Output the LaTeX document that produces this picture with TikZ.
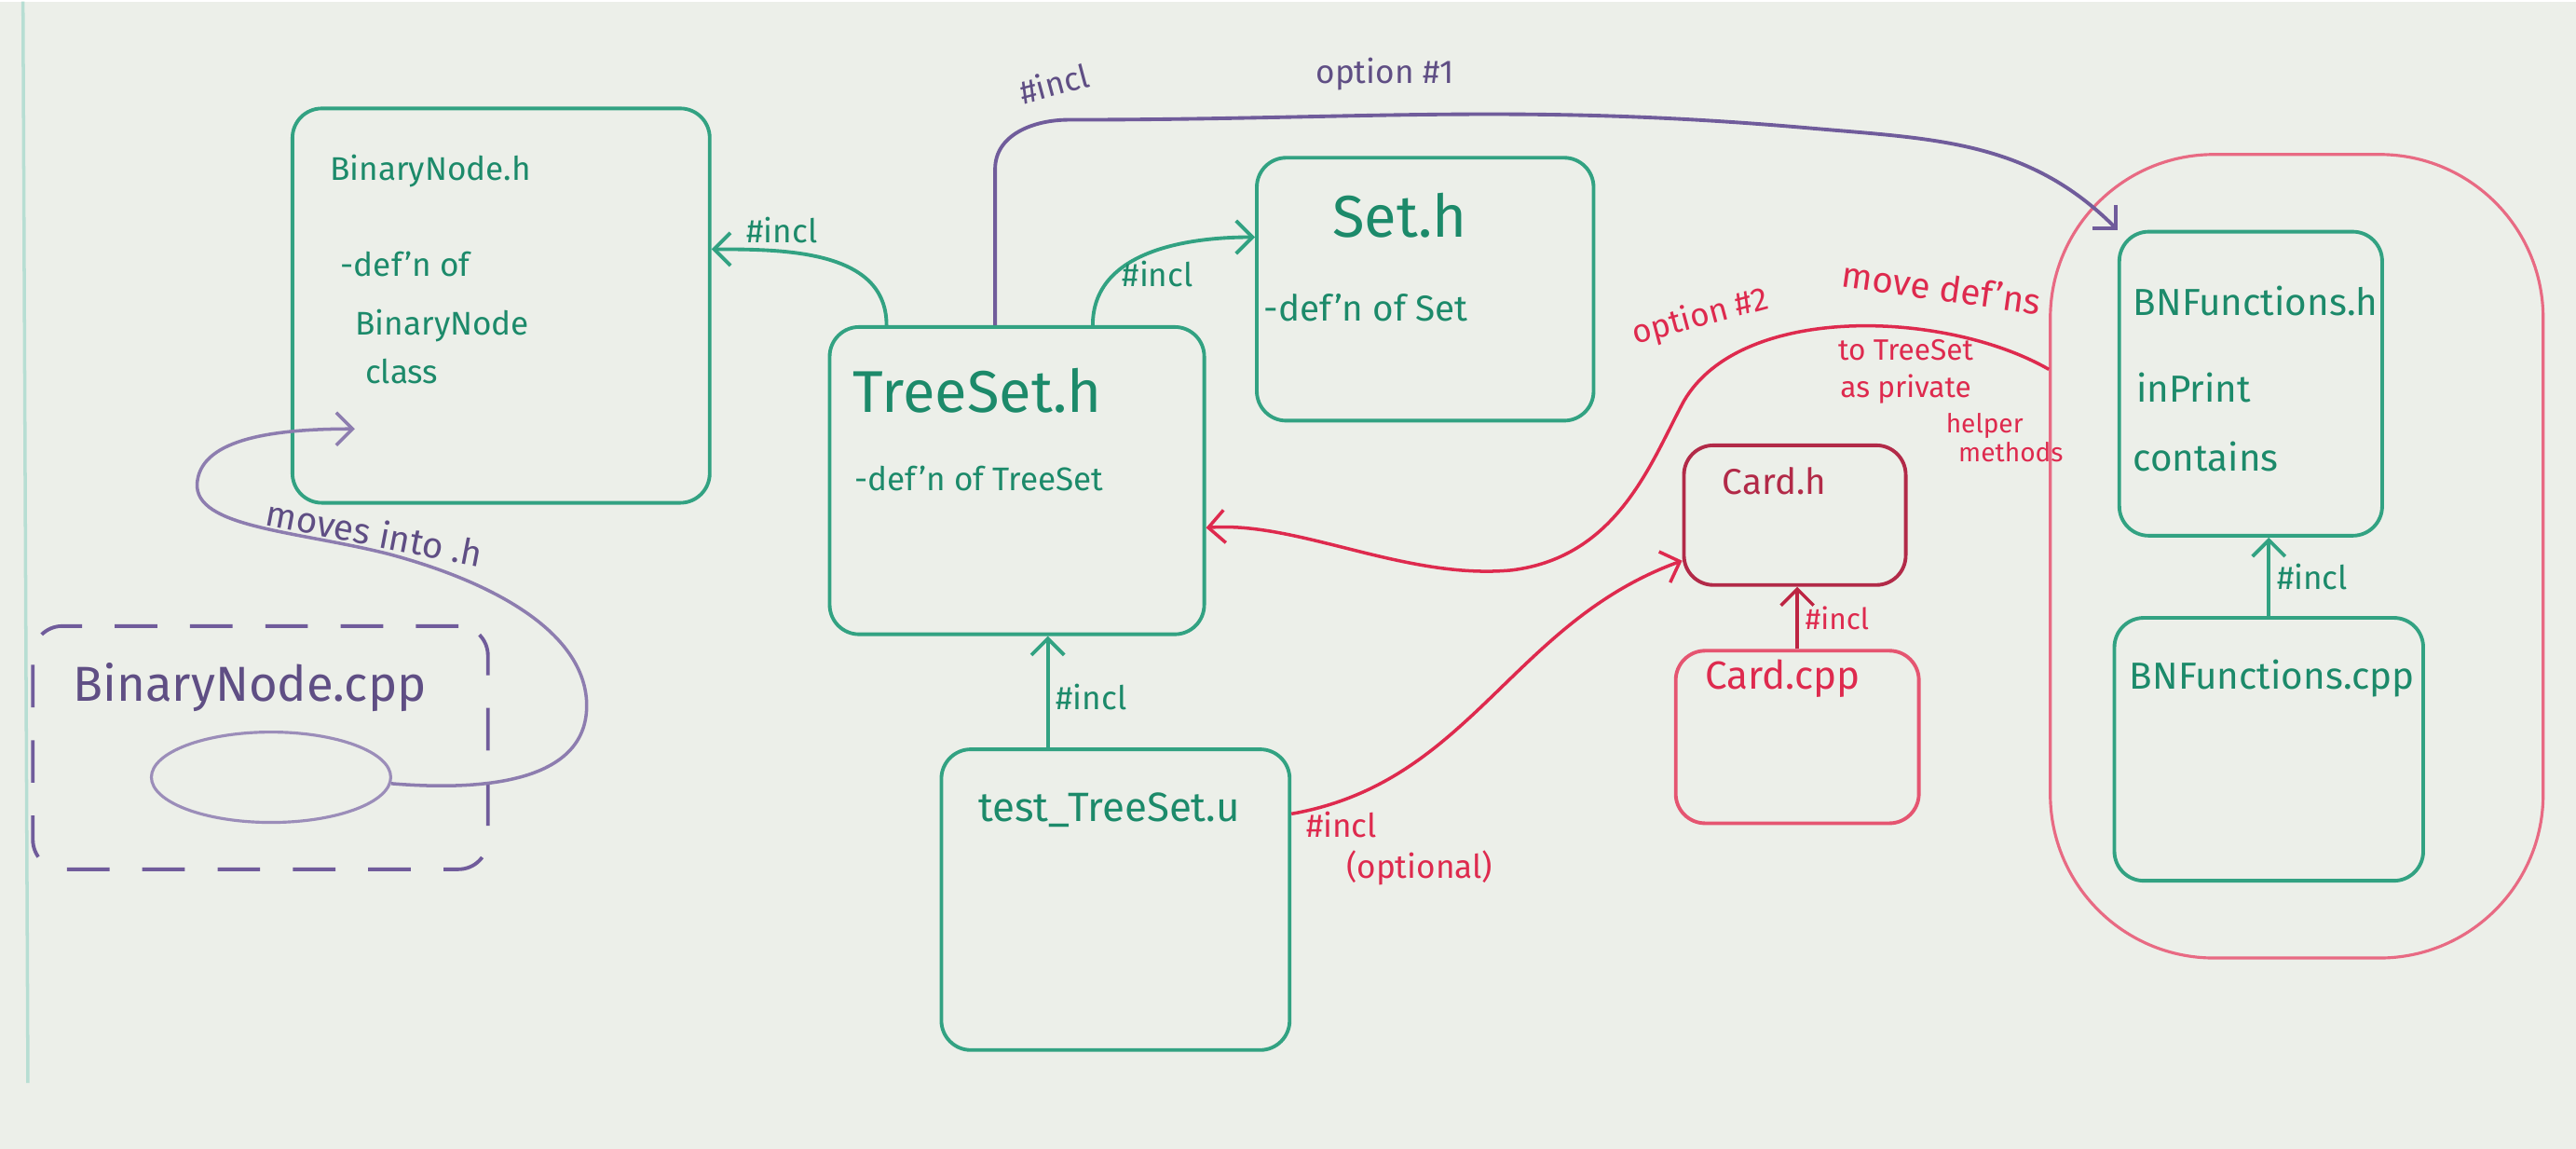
\documentclass[tikz,border=0pt]{standalone}
\usepackage{fontspec}
\setmainfont{Fira Sans}
\usetikzlibrary{positioning,fit,shapes.geometric,arrows.meta}

\definecolor{mkgreen}{RGB}{50,162,130}
\definecolor{mkgreentext}{RGB}{28,138,106}
\definecolor{mkpurple}{RGB}{112,92,155}
\definecolor{mkred}{RGB}{222,42,78}
\definecolor{mkmaroon}{RGB}{178,42,72}
\definecolor{board}{RGB}{236,239,233}

\newcommand{\fsz}[1]{\fontsize{#1}{#1}\selectfont}

\begin{document}
\begin{tikzpicture}[x=0.017634cm, y=0.017634cm]

      \tikzstyle{box_style} = [draw=mkgreen, line width=1.1pt, rounded corners=9pt, inner sep=0pt]
      \tikzstyle{title_style} = [text=mkgreentext, inner sep=1pt]
      \tikzstyle{note_style} = [text=mkgreentext, inner sep=1pt, anchor=west, font=\fsz{10}]
      \tikzstyle{incl_style} = [text=mkgreentext, inner sep=2pt, font=\fsz{10}]
      \tikzstyle{purple_style} = [text=mkpurple!85!black, inner sep=1pt, font=\fsz{10}]
      \tikzstyle{red_style} = [text=mkred, inner sep=0pt, font=\fsz{9}]

      \fill[board] (0,0) rectangle (1568,698);
      \draw[mkgreen!35, line width=1pt] (14,698) -- (17,40);

      % file boxes
      \node[box_style, fit={(178,393) (432,633)}] (binh) {};
      \node[box_style, fit={(505,313) (733,500)}] (tset) {};
      \node[box_style, fit={(765,443) (970,603)}] (seth) {};
      \node[box_style, fit={(1290,373) (1450,558)}] (bnfh) {};
      \node[box_style, fit={(1287,163) (1475,323)}] (bnfc) {};
      \node[box_style, fit={(573,60) (785,243)}] (test) {};
      \node[box_style, draw=mkmaroon, fit={(1025,343) (1160,428)}] (cardh) {};
      \node[box_style, draw=mkred!80, fit={(1020,198) (1168,303)}] (cardc) {};
      \node[box_style, draw=mkpurple, dashed, dash pattern=on 13pt off 10pt, fit={(20,170) (297,318)}] (bincpp) {};
      \node[draw=mkpurple!70, line width=0.9pt, ellipse, minimum width=2.57cm, minimum height=0.97cm, inner sep=0pt] (bincppE) at (165,226) {};
      \node[draw=mkred!70, line width=0.9pt, rounded corners=50pt, inner sep=0pt, fit={(1248,116) (1548,605)}] (bnfblob) {};
      \coordinate (movetip) at (216,438);

            \draw
              (262,595) node[title_style, font=\fsz{10}] (binhT){BinaryNode.h}
              (205,538) node[note_style] (binhA){-def'n of}
              (214,501) node[note_style] (binhB){BinaryNode}
              (220,473) node[note_style] (binhC){class}
              (595,461) node[title_style, font=\fsz{18}] (tsetT){TreeSet.h}
              (518,408) node[note_style] (tsetA){-def'n of TreeSet}
              (852,568) node[title_style, font=\fsz{18}] (sethT){Set.h}
              (767,512) node[note_style, font=\fsz{11}] (sethA){-def'n of Set}
              (1373,516) node[title_style, font=\fsz{11.5}] (bnfhT){BNFunctions.h}
              (1298,463) node[note_style, font=\fsz{11.5}] (bnfhA){inPrint}
              (1296,421) node[note_style, font=\fsz{11.5}] (bnfhB){contains}
              (1383,286) node[title_style, font=\fsz{11.5}] (bnfcT){BNFunctions.cpp}
              (1080,406) node[title_style, text=mkmaroon, font=\fsz{11}] (cardhT){Card.h}
              (1085,286) node[title_style, text=mkred, font=\fsz{12}] (cardcT){Card.cpp}
              (675,206) node[title_style, font=\fsz{12.5}] (testT){test\_TreeSet.u}
              (152,281) node[purple_style, font=\fsz{15}] (bincppT){BinaryNode.cpp}
              (228,375) node[purple_style, rotate=-11, font=\fsz{11}] (movesT){moves into .h}
              (1035,506) node[red_style, rotate=15, font=\fsz{10}] (opt2T){option \#2}
              (1182,524) node[red_style, rotate=-8, font=\fsz{11}] (moveT){move def'ns}
              (1160,486) node[red_style] (toT){to TreeSet}
              (1160,462) node[red_style] (privT){as private}
              (1208,440) node[red_style, font=\fsz{8}] (helpT){helper}
              (1224,424) node[red_style, font=\fsz{8}] (methT){methods};

      \begin{scope}[->, >={Straight Barb[length=5pt, width=10pt]}, line width=1.1pt]
        \draw[mkgreen] (tset.130) to[out=90, in=0] node[pos=0.7, above, incl_style] (inclBN) {\#incl} (binh.15);
        \draw[mkgreen] (tset.64) to[out=90, in=180] node[pos=0.3, right, incl_style] (inclSet) {\#incl} (seth.163);
        \draw[mkgreen] (test.114) -- node[pos=0.45, right, incl_style] (inclTest) {\#incl} (test.114 |- tset.south);
        \draw[mkgreen] (bnfc.north) -- node[right, incl_style] (inclBNF) {\#incl} (bnfc.north |- bnfh.south);
        \draw[mkred!85!black, line width=1pt] (cardc.north) -- node[right, red_style, font=\fsz{9}, xshift=2pt] (inclCard) {\#incl} (cardc.north |- cardh.south);
        \draw[mkpurple] (tset.98) -- ++(0,95)
            to[out=90, in=180] node[pos=0.9, above=6pt, rotate=15, purple_style] (inclOpt1) {\#incl} ++(45,30)
            to[out=0, in=175] node[pos=0.42, above=6pt, purple_style] (opt1T) {option \#1} ++(450,-5)
            to[out=-5, in=135] (bnfh.north west);
        \draw[mkred, line width=1pt] (test.26) to[out=10, in=200] node[pos=0, anchor=north west, xshift=4pt, yshift=1pt, red_style, font=\fsz{10}] (inclOptl) {\#incl} (cardh.202);
        \draw[mkred, line width=1pt] (bnfblob.143) .. controls (1185,510) and (1060,515) .. (1025,455)
            .. controls (1005,418) and (985,360) .. (920,352)
            .. controls (855,346) and (790,382) .. (tset.346);
        \draw[mkpurple!80, line width=1pt] (bincppE.-3) .. controls (300,217) and (360,225) .. (357,273)
            .. controls (354,315) and (300,345) .. (236,362)
            .. controls (180,376) and (118,378) .. (120,405)
            .. controls (122,430) and (160,438) .. (movetip);
      \end{scope}
      \node[red_style, font=\fsz{10}, below right=3pt and -10pt of inclOptl] (optlT) {(optional)};

    \end{tikzpicture}
\end{document}
